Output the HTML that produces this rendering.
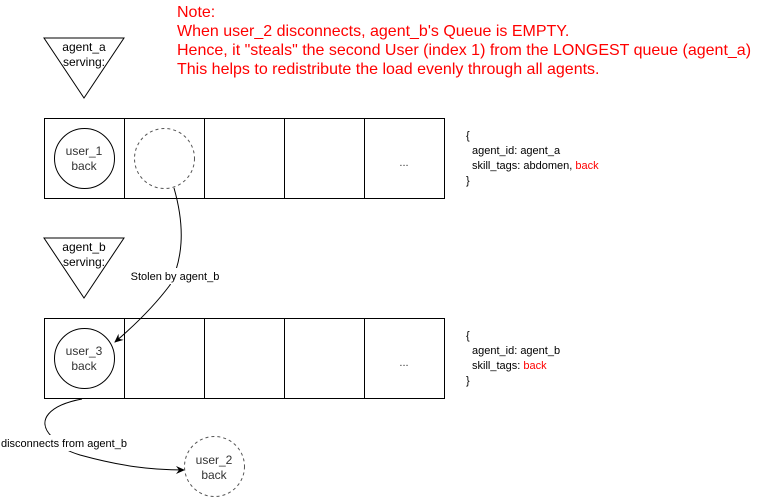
<!DOCTYPE html>
<html><head><meta charset="utf-8"><style>
body{margin:0;background:#fff;}
svg{display:block;font-family:"Liberation Sans",Arial,sans-serif;}
</style></head><body>
<svg width="760" height="499" viewBox="0 0 760 499">
<defs><marker id="ar" markerWidth="10" markerHeight="10" refX="8" refY="5" orient="auto" markerUnits="userSpaceOnUse"><path d="M0,1 L9,5 L0,9 L3,5 Z" fill="#000"/></marker></defs>
<g fill="#ff0000" font-size="16">
<text x="177" y="17">Note:</text>
<text x="177" y="36">When user_2 disconnects, agent_b's Queue is EMPTY.</text>
<text x="177" y="55">Hence, it "steals" the second User (index 1) from the LONGEST queue (agent_a)</text>
<text x="177" y="74">This helps to redistribute the load evenly through all agents.</text>
</g>
<g>
<polygon points="44,38 124,38 84,98" fill="#fff" stroke="#000" stroke-width="1"/>
<text x="84" y="51" font-size="12" text-anchor="middle">agent_a</text>
<text x="84" y="66" font-size="12" text-anchor="middle">serving:</text>
</g>
<g fill="#fff" stroke="#000">
<rect x="44.5" y="118.5" width="80" height="80"/><rect x="124.5" y="118.5" width="80" height="80"/><rect x="204.5" y="118.5" width="80" height="80"/><rect x="284.5" y="118.5" width="80" height="80"/><rect x="364.5" y="118.5" width="80" height="80"/>
</g>
<text x="404" y="166" font-size="11" text-anchor="middle" fill="#333">...</text>
<g>
<circle cx="84.5" cy="158.5" r="30" fill="#fff" stroke="#000"/>
<text x="84" y="155" font-size="12" text-anchor="middle" fill="#333">user_1</text>
<text x="84" y="170" font-size="12" text-anchor="middle" fill="#333">back</text>
</g>
<circle cx="164.5" cy="158.5" r="30" fill="none" stroke="#555" stroke-dasharray="3,3"/>
<g font-size="11" fill="#000">
<text x="466" y="139">{</text>
<text x="472" y="154">agent_id: agent_a</text>
<text x="472" y="169">skill_tags: abdomen, <tspan fill="#ff0000">back</tspan></text>
<text x="466" y="184">}</text>
</g>
<g>
<polygon points="44,238 124,238 84,298" fill="#fff" stroke="#000"/>
<text x="84" y="251" font-size="12" text-anchor="middle">agent_b</text>
<text x="84" y="266" font-size="12" text-anchor="middle">serving:</text>
</g>
<g fill="#fff" stroke="#000">
<rect x="44.5" y="318.5" width="80" height="80"/><rect x="124.5" y="318.5" width="80" height="80"/><rect x="204.5" y="318.5" width="80" height="80"/><rect x="284.5" y="318.5" width="80" height="80"/><rect x="364.5" y="318.5" width="80" height="80"/>
</g>
<text x="404" y="366" font-size="11" text-anchor="middle" fill="#333">...</text>
<g>
<circle cx="84.5" cy="358.5" r="30" fill="#fff" stroke="#000"/>
<text x="84" y="355" font-size="12" text-anchor="middle" fill="#333">user_3</text>
<text x="84" y="370" font-size="12" text-anchor="middle" fill="#333">back</text>
</g>
<path d="M174,188 C186,230 182,260 170,285 C155,305 135,325 115,342" fill="none" stroke="#000" marker-end="url(#ar)"/>
<rect x="128" y="268" width="92" height="16" fill="#fff"/>
<text x="175" y="280" font-size="11" text-anchor="middle">Stolen by agent_b</text>
<g font-size="11" fill="#000">
<text x="466" y="339">{</text>
<text x="472" y="354">agent_id: agent_b</text>
<text x="472" y="369">skill_tags: <tspan fill="#ff0000">back</tspan></text>
<text x="466" y="384">}</text>
</g>
<path d="M82,399 C50,405 35,420 52,437 C60,448 70,452 80,455 C120,466 150,470 184,470" fill="none" stroke="#000" marker-end="url(#ar)"/>
<rect x="0" y="435" width="128" height="16" fill="#fff"/>
<text x="1" y="447" font-size="11">disconnects from agent_b</text>
<g>
<circle cx="214.5" cy="466.5" r="30" fill="#fff" stroke="#555" stroke-dasharray="3,3"/>
<text x="214" y="464" font-size="12" text-anchor="middle" fill="#333">user_2</text>
<text x="214" y="479" font-size="12" text-anchor="middle" fill="#333">back</text>
</g>
</svg>
</body></html>
